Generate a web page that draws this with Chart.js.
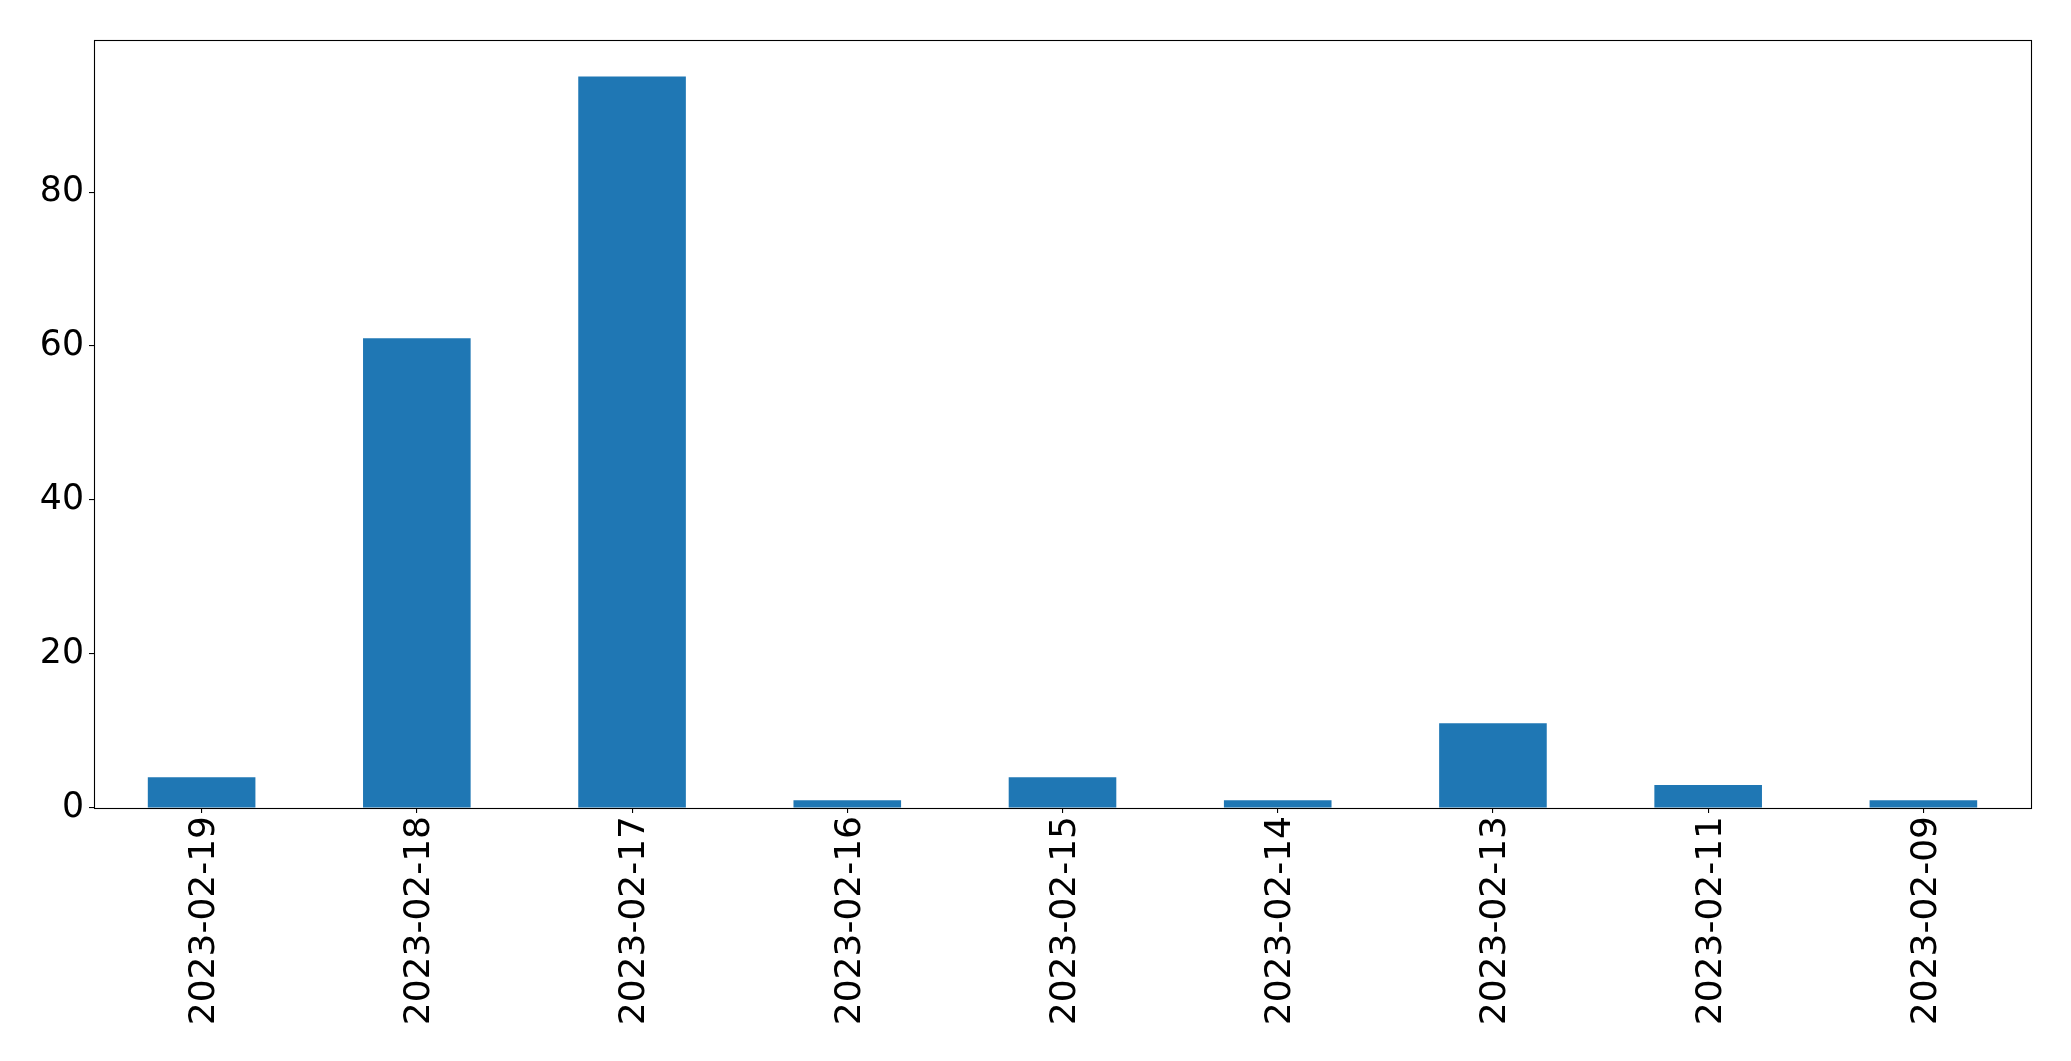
<!DOCTYPE html>
<html>
<head>
<meta charset="utf-8">
<script src="https://cdn.jsdelivr.net/npm/chart.js@4"></script>
<style>
  html, body { margin: 0; padding: 0; background: #fff; }
  #wrap { width: 2071px; height: 1061px; }
</style>
</head>
<body>
<div id="wrap"><canvas id="c" width="2071" height="1061"></canvas></div>
<script>
const categories = ["2023-02-19","2023-02-18","2023-02-17","2023-02-16","2023-02-15","2023-02-14","2023-02-13","2023-02-11","2023-02-09"];
const counts = [4, 61, 95, 1, 4, 1, 11, 3, 1];
const yTicks = [0, 20, 40, 60, 80];
const yMax = 99.75;

const FONT = "'DejaVu Sans', sans-serif";

const frame = {
  id: 'frame',
  afterDraw(chart) {
    const a = chart.chartArea, ctx = chart.ctx;
    ctx.save();
    ctx.strokeStyle = '#000';
    ctx.lineWidth = 1.1;
    ctx.strokeRect(Math.round(a.left) + 0.5, Math.round(a.top) + 0.5, Math.round(a.right - a.left), Math.round(a.bottom - a.top));
    ctx.restore();
  }
};

new Chart(document.getElementById('c'), {
  type: 'bar',
  data: {
    labels: categories,
    datasets: [{
      data: counts,
      backgroundColor: '#1f77b4',
      borderWidth: 0,
      categoryPercentage: 1.0,
      barPercentage: 0.5
    }]
  },
  options: {
    responsive: false,
    animation: false,
    devicePixelRatio: 1,
    layout: { padding: { top: 40, right: 40, left: 0, bottom: 0 } },
    plugins: { legend: { display: false }, tooltip: { enabled: false } },
    scales: {
      x: {
        offset: true,
        grid: { display: true, offset: false, drawOnChartArea: false, drawTicks: true, tickLength: 5, color: '#000', lineWidth: 1.1 },
        border: { display: false },
        ticks: {
          color: '#000', font: { family: FONT, size: 36 },
          minRotation: 90, maxRotation: 90, padding: 3, autoSkip: false, labelOffset: 3
        },
        afterFit(scale) { scale.height = 253; }
      },
      y: {
        min: 0, max: yMax,
        grid: { display: true, drawOnChartArea: false, drawTicks: true, tickLength: 5, color: '#000', lineWidth: 1.1 },
        border: { display: false },
        ticks: { color: '#000', font: { family: FONT, size: 34.7 }, padding: 5 },
        afterBuildTicks(scale) { scale.ticks = yTicks.map(v => ({ value: v })); },
        afterFit(scale) { scale.width = 94; }
      }
    }
  },
  plugins: [frame]
});
</script>
</body>
</html>
